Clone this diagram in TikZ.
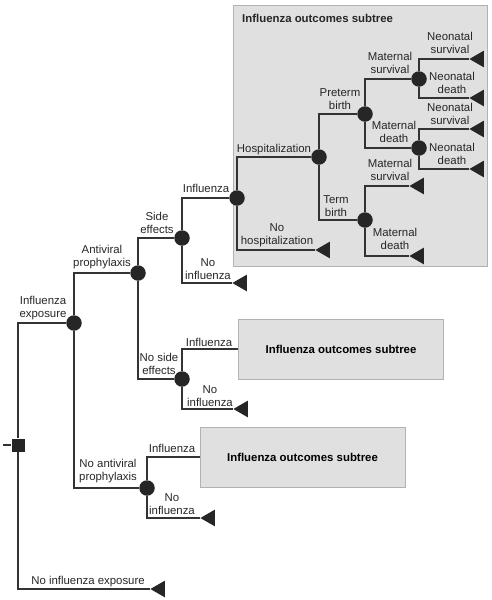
\documentclass[tikz,border=0pt]{standalone}
\usepackage{fontspec}
\setmainfont{Liberation Sans}
\usetikzlibrary{shapes.geometric}

\begin{document}
\begin{tikzpicture}[x=1pt,y=-1pt,
  every node/.style={font=\fontsize{11.4}{13}\selectfont},
  chance/.style={circle,fill=black!85,minimum size=15.5pt,inner sep=0pt},
  decision/.style={rectangle,fill=black!85,minimum size=13pt,inner sep=0pt},
  terminal/.style={isosceles triangle,isosceles triangle apex angle=60,
    shape border rotate=180,fill=black!85,inner sep=0pt,minimum size=14.5pt,anchor=apex},
  lbl/.style={align=center,inner sep=0pt,text=black!85},
  subtree/.style={draw=black!30,fill=black!12,line width=1pt,inner sep=0pt,
    minimum width=205pt,minimum height=60pt,font=\fontsize{11.4}{13}\selectfont\bfseries},
  branch/.style={draw=black!80,line width=1.1pt}]
  \useasboundingbox (0,0) rectangle (492,600);
  % expanded subtree in the background
  \filldraw[draw=black!30,fill=black!12,line width=1pt] (233,5) rectangle (487,266);
  \node[lbl,anchor=west,font=\fontsize{11.4}{13}\selectfont\bfseries] (l_title) at (242,18) {Influenza outcomes subtree};

  % decision and chance nodes
  \coordinate (dec_in) at (3,445);
  \node[decision] (dec) at (18,445) {};
  \node[chance] (c_exp) at (74,323) {};
  \node[chance] (c_av) at (138,273) {};
  \node[chance] (c_noav) at (147,488) {};
  \node[chance] (c_se) at (182,238) {};
  \node[chance] (c_nose) at (182,379) {};
  \node[chance] (c_flu1) at (237,198) {};
  \node[chance] (c_hosp) at (319,157) {};
  \node[chance] (c_pre) at (365,114) {};
  \node[chance] (c_term) at (365,220) {};
  \node[chance] (c_msurv) at (419,79) {};
  \node[chance] (c_mdeath) at (419,148) {};

  % collapsed subtrees
  \node[subtree] (sub2) at (341,349) {Influenza outcomes subtree};
  \node[subtree] (sub3) at (302.5,457) {Influenza outcomes subtree};

  % terminal nodes
  \foreach \n/\x/\y in {t_noexp/150/589,t_noflu1/232/283,t_noflu2/233/409,
      t_noflu3/200/518,t_nohosp/315/250,t_tms/409/186,t_tmd/409/256,
      t_ns1/469/59,t_nd1/469/98,t_ns2/469/129,t_nd2/469/169}
    \node[terminal] (\n) at (\x,\y) {};

  % branches
  \draw[branch] (dec_in) -- (dec);
  \draw[branch] (dec) |- (c_exp);
  \draw[branch] (dec) |- (t_noexp);
  \draw[branch] (c_exp) |- (c_av);
  \draw[branch] (c_exp) |- (c_noav);
  \draw[branch] (c_av) |- (c_se);
  \draw[branch] (c_av) |- (c_nose);
  \draw[branch] (c_se) |- (c_flu1);
  \draw[branch] (c_se) |- (t_noflu1);
  \draw[branch] (c_nose) |- (sub2);
  \draw[branch] (c_nose) |- (t_noflu2);
  \draw[branch] (c_noav) |- (sub3);
  \draw[branch] (c_noav) |- (t_noflu3);
  \draw[branch] (c_flu1) |- (c_hosp);
  \draw[branch] (c_flu1) |- (t_nohosp);
  \draw[branch] (c_hosp) |- (c_pre);
  \draw[branch] (c_hosp) |- (c_term);
  \draw[branch] (c_pre) |- (c_msurv);
  \draw[branch] (c_pre) |- (c_mdeath);
  \draw[branch] (c_term) |- (t_tms);
  \draw[branch] (c_term) |- (t_tmd);
  \draw[branch] (c_msurv) |- (t_ns1);
  \draw[branch] (c_msurv) |- (t_nd1);
  \draw[branch] (c_mdeath) |- (t_ns2);
  \draw[branch] (c_mdeath) |- (t_nd2);

  % branch labels
  \node[lbl] (l_exp) at (43,308) {Influenza\\exposure};
  \node[lbl] (l_noexp) at (88,582) {No influenza exposure};
  \node[lbl] (l_av) at (102,257) {Antiviral\\prophylaxis};
  \node[lbl] (l_noav) at (108,471) {No antiviral\\prophylaxis};
  \node[lbl] (l_se) at (157,223) {Side\\effects};
  \node[lbl] (l_nose) at (159,364) {No side\\effects};
  \node[lbl] (l_flu1) at (206,188) {Influenza};
  \node[lbl] (l_noflu1) at (208,269) {No\\influenza};
  \node[lbl] (l_flu2) at (209,342) {Influenza};
  \node[lbl] (l_noflu2) at (210,396) {No\\influenza};
  \node[lbl] (l_flu3) at (172,448) {Influenza};
  \node[lbl] (l_noflu3) at (172,504) {No\\influenza};
  \node[lbl] (l_hosp) at (274,150) {Hospitalization};
  \node[lbl] (l_nohosp) at (277,235) {No\\hospitalization};
  \node[lbl] (l_pre) at (340,99) {Preterm\\birth};
  \node[lbl] (l_term) at (336,206) {Term\\birth};
  \node[lbl] (l_msurv) at (390,63) {Maternal\\survival};
  \node[lbl] (l_mdeath) at (394,132) {Maternal\\death};
  \node[lbl] (l_tms) at (390,170) {Maternal\\survival};
  \node[lbl] (l_tmd) at (395,239) {Maternal\\death};
  \node[lbl] (l_ns1) at (450,43) {Neonatal\\survival};
  \node[lbl] (l_nd1) at (452,83) {Neonatal\\death};
  \node[lbl] (l_ns2) at (450,114) {Neonatal\\survival};
  \node[lbl] (l_nd2) at (452,154) {Neonatal\\death};
\end{tikzpicture}
\end{document}
